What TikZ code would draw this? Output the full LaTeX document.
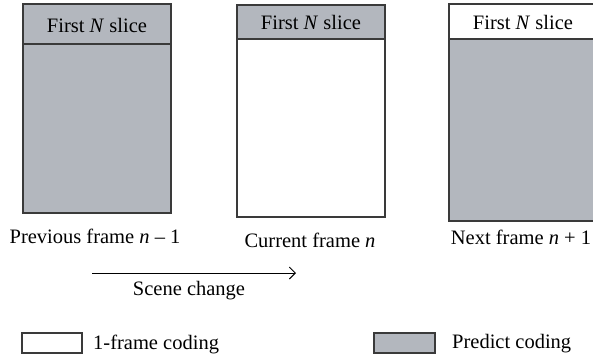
\documentclass[tikz,border=0pt]{standalone}
\usepackage{fontspec}
\setmainfont{Liberation Serif}
\usepackage{tikz}
\usetikzlibrary{arrows,arrows.meta,positioning}

\definecolor{predgray}{HTML}{B3B7BE}
\definecolor{edgegray}{HTML}{3A3A3A}
\tikzset{
  framebox/.style={draw=edgegray,line width=1.1pt},
  lbl/.style={font=\fontsize{20.5}{24}\selectfont,inner sep=0pt},
}

\begin{document}
\begin{tikzpicture}[x=1pt,y=-1pt]
\useasboundingbox (0,0) rectangle (593,360);
% frame n-1
\fill[predgray] (23,4) rectangle (171,213);
\draw[framebox] (23,4) rectangle (171,213);
\draw[framebox] (23,44) to (171,44);
\node[lbl] (slicea) at (97,25) {First \textit{N} slice};
% frame n
\fill[predgray] (237,5) rectangle (385,39);
\draw[framebox] (237,5) rectangle (385,217);
\draw[framebox] (237,39) to (385,39);
\node[lbl] (sliceb) at (311,22) {First \textit{N} slice};
% frame n+1
\fill[predgray] (449,39) rectangle (597,221);
\draw[framebox] (449,4) rectangle (597,221);
\draw[framebox] (449,39) to (597,39);
\node[lbl] (slicec) at (523,22) {First \textit{N} slice};
% captions
\node[lbl] (prev) at (95,236) {Previous frame \textit{n} -- 1};
\node[lbl] (curr) at (310,240) {Current frame \textit{n}};
\node[lbl] (next) at (521,237) {Next frame \textit{n} + 1};
% scene change
\coordinate (sca) at (92,273);
\coordinate (scb) at (296,273);
\draw[-{Straight Barb[length=6pt,width=12pt]},line width=0.9pt] (sca) to (scb);
\node[lbl] (scene) at (189,291) {Scene change};
% legend
\draw[framebox,fill=white] (22,333) rectangle (82,353);
\node[lbl,anchor=west] (iframe) at (93,344) {1-frame coding};
\draw[framebox,fill=predgray] (374,333) rectangle (435,353);
\node[lbl,anchor=west] (pframe) at (452,344) {Predict coding};
\end{tikzpicture}
\end{document}
